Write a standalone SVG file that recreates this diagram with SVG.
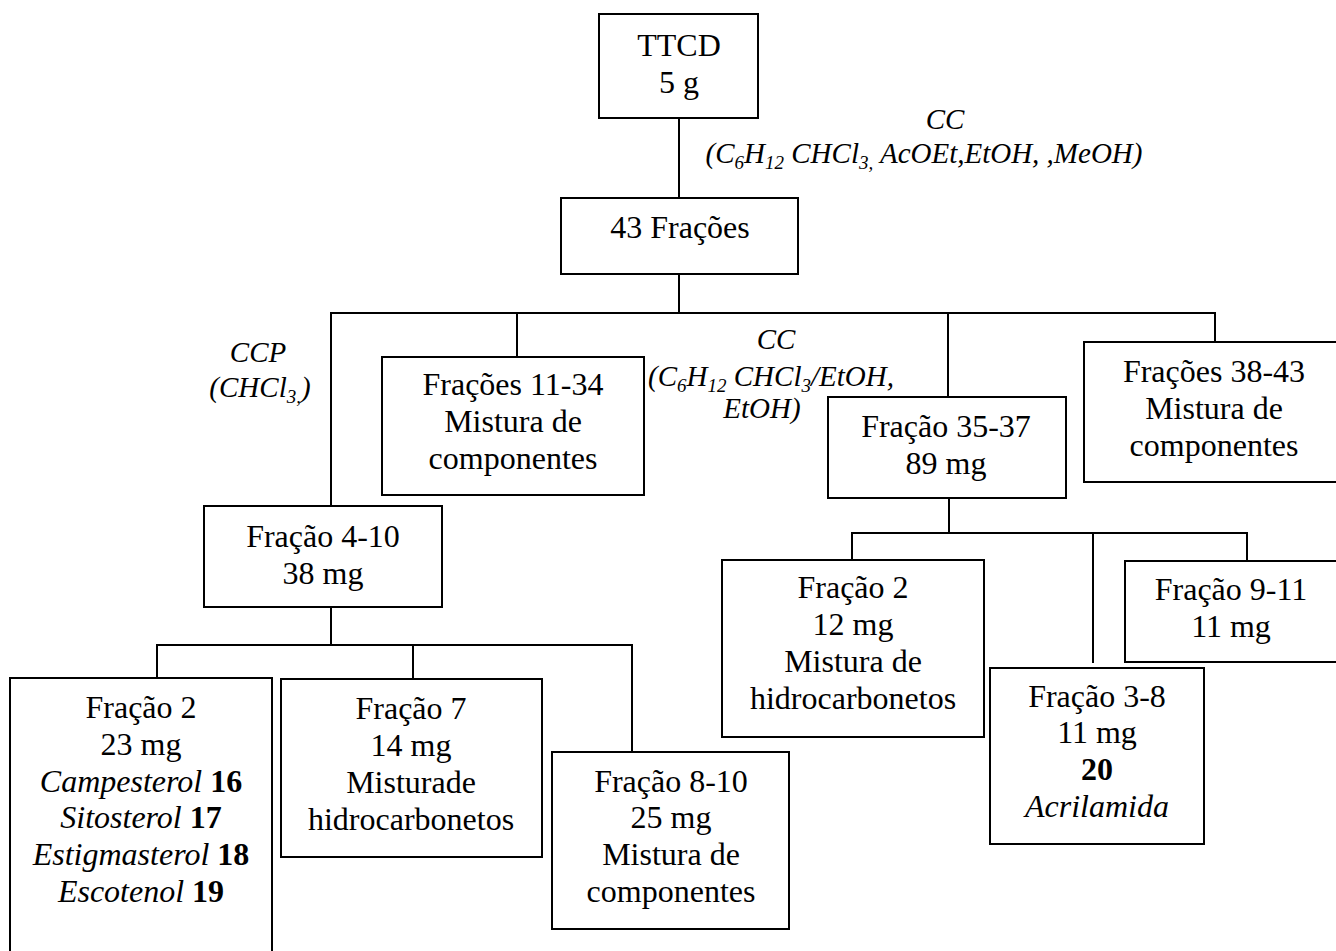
<svg xmlns="http://www.w3.org/2000/svg" width="1336" height="951" viewBox="0 0 1336 951">
<style>
.box{fill:#fff;stroke:#000;stroke-width:2}
.t{font-family:"Liberation Serif","Times New Roman",serif;font-size:32px;fill:#000;text-anchor:middle}
.lbl{font-family:"Liberation Serif","Times New Roman",serif;font-size:29px;font-style:italic;fill:#000;text-anchor:middle}
.i{font-style:italic}
.b{font-weight:bold}
.con line{stroke:#000;stroke-width:2}
</style>
<rect width="1336" height="951" fill="#fff"/>
<g class="con" id="connectors">
<line x1="679" y1="118" x2="679" y2="198"/>
<line x1="679" y1="274" x2="679" y2="313"/>
<line x1="330" y1="313" x2="1216" y2="313"/>
<line x1="331" y1="313" x2="331" y2="506"/>
<line x1="517" y1="313" x2="517" y2="357"/>
<line x1="948" y1="313" x2="948" y2="397"/>
<line x1="1215" y1="313" x2="1215" y2="342"/>
<line x1="949" y1="498" x2="949" y2="533"/>
<line x1="851" y1="533" x2="1248" y2="533"/>
<line x1="852" y1="533" x2="852" y2="560"/>
<line x1="1093" y1="533" x2="1093" y2="663"/>
<line x1="1247" y1="533" x2="1247" y2="561"/>
<line x1="331" y1="607" x2="331" y2="645"/>
<line x1="156" y1="645" x2="633" y2="645"/>
<line x1="157" y1="645" x2="157" y2="678"/>
<line x1="413" y1="645" x2="413" y2="679"/>
<line x1="632" y1="645" x2="632" y2="752"/>
</g>
<g id="labels">
<text class="lbl" x="945" y="129">CC</text>
<text class="lbl" x="924" y="163">(C<tspan font-size="19" dy="6">6</tspan><tspan dy="-6">H</tspan><tspan font-size="19" dy="6">12</tspan><tspan dy="-6"> CHCl</tspan><tspan font-size="19" dy="6">3,</tspan><tspan dy="-6"> AcOEt,EtOH, ,MeOH)</tspan></text>
<text class="lbl" x="258" y="362">CCP</text>
<text class="lbl" x="260" y="397">(CHCl<tspan font-size="19" dy="6">3,</tspan><tspan dy="-6">)</tspan></text>
<text class="lbl" x="776" y="349">CC</text>
<text class="lbl" x="771" y="386">(C<tspan font-size="19" dy="6">6</tspan><tspan dy="-6">H</tspan><tspan font-size="19" dy="6">12</tspan><tspan dy="-6"> CHCl</tspan><tspan font-size="19" dy="6">3</tspan><tspan dy="-6">/EtOH,</tspan></text>
<text class="lbl" x="762" y="418">EtOH)</text>
</g>
<g id="ttcd">
<rect class="box" x="599" y="14" width="159" height="104"/>
<text class="t" x="679" y="56">TTCD</text>
<text class="t" x="679" y="93">5 g</text>
</g>
<g id="f43">
<rect class="box" x="561" y="198" width="237" height="76"/>
<text class="t" x="680" y="238">43 Frações</text>
</g>
<g id="f11-34">
<rect class="box" x="382" y="357" width="262" height="138"/>
<text class="t" x="513" y="395">Frações 11-34</text>
<text class="t" x="513" y="432">Mistura de</text>
<text class="t" x="513" y="469">componentes</text>
</g>
<g id="f38-43">
<rect class="box" x="1084" y="342" width="262" height="140"/>
<text class="t" x="1214" y="382">Frações 38-43</text>
<text class="t" x="1214" y="419">Mistura de</text>
<text class="t" x="1214" y="456">componentes</text>
</g>
<g id="f35-37">
<rect class="box" x="828" y="397" width="238" height="101"/>
<text class="t" x="946" y="437">Fração 35-37</text>
<text class="t" x="946" y="474">89 mg</text>
</g>
<g id="f4-10">
<rect class="box" x="204" y="506" width="238" height="101"/>
<text class="t" x="323" y="547">Fração 4-10</text>
<text class="t" x="323" y="584">38 mg</text>
</g>
<g id="f2a">
<rect class="box" x="10" y="678" width="262" height="290"/>
<text class="t" x="141" y="718">Fração 2</text>
<text class="t" x="141" y="755">23 mg</text>
<text class="t" x="141" y="792"><tspan class="i">Campesterol</tspan> <tspan class="b">16</tspan></text>
<text class="t" x="141" y="828"><tspan class="i">Sitosterol</tspan> <tspan class="b">17</tspan></text>
<text class="t" x="141" y="865"><tspan class="i">Estigmasterol</tspan> <tspan class="b">18</tspan></text>
<text class="t" x="141" y="902"><tspan class="i">Escotenol</tspan> <tspan class="b">19</tspan></text>
</g>
<g id="f7">
<rect class="box" x="281" y="679" width="261" height="178"/>
<text class="t" x="411" y="719">Fração 7</text>
<text class="t" x="411" y="756">14 mg</text>
<text class="t" x="411" y="793">Misturade</text>
<text class="t" x="411" y="830">hidrocarbonetos</text>
</g>
<g id="f8-10">
<rect class="box" x="552" y="752" width="237" height="177"/>
<text class="t" x="671" y="792">Fração 8-10</text>
<text class="t" x="671" y="828">25 mg</text>
<text class="t" x="671" y="865">Mistura de</text>
<text class="t" x="671" y="902">componentes</text>
</g>
<g id="f2b">
<rect class="box" x="722" y="560" width="262" height="177"/>
<text class="t" x="853" y="598">Fração 2</text>
<text class="t" x="853" y="635">12 mg</text>
<text class="t" x="853" y="672">Mistura de</text>
<text class="t" x="853" y="709">hidrocarbonetos</text>
</g>
<g id="f3-8">
<rect class="box" x="990" y="668" width="214" height="176"/>
<text class="t" x="1097" y="707">Fração 3-8</text>
<text class="t" x="1097" y="743">11 mg</text>
<text class="t b" x="1097" y="780">20</text>
<text class="t i" x="1097" y="817">Acrilamida</text>
</g>
<g id="f9-11">
<rect class="box" x="1125" y="561" width="221" height="101"/>
<text class="t" x="1231" y="600">Fração 9-11</text>
<text class="t" x="1231" y="637">11 mg</text>
</g>
</svg>
